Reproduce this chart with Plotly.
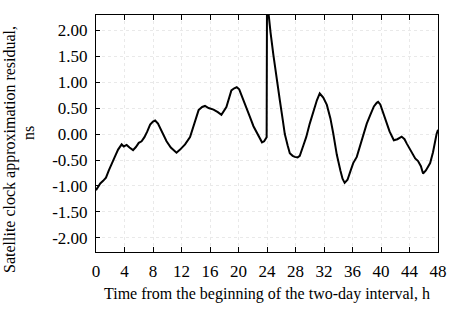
import plotly.graph_objects as go

# time, h
t = [0.0, 0.3, 0.6, 1.0, 1.4, 1.8, 2.2, 2.7, 3.1, 3.6, 3.9, 4.3, 4.7, 5.2, 5.6, 6.0, 6.4, 6.8,
     7.2, 7.6, 8.0, 8.3, 8.7, 9.2, 9.9, 10.5, 11.0, 11.3, 11.8, 12.5, 13.2, 13.8, 14.4, 14.9,
     15.3, 15.8, 16.5, 17.1, 17.6, 18.3, 18.7, 19.0, 19.4, 19.75, 20.1, 20.4, 21.0, 21.6, 22.1,
     22.6, 23.0, 23.3, 23.6, 23.95, 24.0, 24.2, 24.5, 24.9, 25.3, 25.8, 26.2, 26.5, 26.9, 27.2,
     27.6, 27.9, 28.3, 28.6, 29.1, 29.5, 30.0, 30.5, 31.0, 31.4, 31.9, 32.4, 32.9, 33.3, 33.8,
     34.3, 34.6, 34.9, 35.3, 35.7, 36.1, 36.6, 37.1, 37.5, 38.0, 38.5, 39.0, 39.4, 39.6, 39.9,
     40.3, 40.6, 41.2, 41.8, 42.3, 42.9, 43.3, 43.6, 44.2, 44.8, 45.2, 45.6, 45.9, 46.3, 46.9,
     47.3, 47.8, 48.0]
# residual, ns
v = [-1.08, -1.02, -0.95, -0.90, -0.84, -0.70, -0.56, -0.42, -0.30, -0.20, -0.24, -0.21, -0.26,
     -0.31, -0.25, -0.17, -0.14, -0.06, 0.05, 0.18, 0.24, 0.26, 0.20, 0.06, -0.14, -0.26, -0.32,
     -0.36, -0.30, -0.20, -0.06, 0.20, 0.46, 0.52, 0.54, 0.50, 0.47, 0.42, 0.37, 0.52, 0.70,
     0.84, 0.88, 0.90, 0.86, 0.76, 0.55, 0.33, 0.15, 0.01, -0.10, -0.16, -0.14, -0.06, 2.60,
     2.30, 1.95, 1.52, 1.10, 0.65, 0.28, 0.00, -0.22, -0.37, -0.42, -0.44, -0.45, -0.42, -0.22,
     -0.06, 0.20, 0.45, 0.65, 0.78, 0.70, 0.56, 0.30, 0.01, -0.40, -0.70, -0.86, -0.94, -0.88,
     -0.72, -0.56, -0.44, -0.22, 0.00, 0.20, 0.37, 0.53, 0.60, 0.62, 0.57, 0.40, 0.27, 0.05,
     -0.12, -0.10, -0.05, -0.10, -0.18, -0.32, -0.47, -0.52, -0.62, -0.76, -0.70, -0.56, -0.35,
     0.00, 0.08]

x_ticks = list(range(0, 49, 4))
y_ticks = [2.0, 1.5, 1.0, 0.5, 0.0, -0.5, -1.0, -1.5, -2.0]
y_tick_text = ["2.00", "1.50", "1.00", "0.50", "0.00", "-0.50", "-1.00", "-1.50", "-2.00"]
y_title_lines = ["Satellite clock approximation residual,", "ns"]
x_title = "Time from the beginning of the two-day interval, h"

fig = go.Figure(go.Scatter(x=t, y=v, mode="lines", line=dict(color="black", width=2),
                           showlegend=False))

tick_font = dict(family="Liberation Serif", size=17, color="black")
title_font = dict(family="Liberation Serif", size=16, color="black")
fig.update_layout(
    width=457, height=322,
    margin=dict(l=96, r=19, t=15, b=70),
    paper_bgcolor="white", plot_bgcolor="white",
    font=title_font,
)
fig.update_xaxes(range=[0, 48], tickvals=x_ticks, ticks="inside", ticklen=5, tickcolor="black",
                 showline=True, linecolor="black", linewidth=1, mirror="ticks",
                 showgrid=True, gridcolor="#e9e9e9", griddash="dot", zeroline=False,
                 automargin=False, ticklabelstandoff=4,
                 title=dict(text=x_title, standoff=7, font=title_font),
                 tickfont=tick_font)
fig.update_yaxes(range=[-2.27, 2.29], tickvals=y_ticks, ticktext=y_tick_text, ticks="inside",
                 ticklen=4, tickcolor="black",
                 showline=True, linecolor="black", linewidth=1, mirror=True,
                 showgrid=True, gridcolor="#e9e9e9", griddash="dot", zeroline=False,
                 automargin=False, ticklabelstandoff=4,
                 tickfont=tick_font)

# y-axis title (two lines, as in the original)
fig.add_annotation(text=y_title_lines[0], xref="paper", yref="paper", x=-0.2515, y=0.4346,
                   xanchor="center", yanchor="middle", textangle=-90, showarrow=False,
                   font=title_font)
fig.add_annotation(text=y_title_lines[1], xref="paper", yref="paper", x=-0.1988, y=0.502,
                   xanchor="center", yanchor="middle", textangle=-90, showarrow=False,
                   font=title_font)

fig.write_html("out.html", config={"displayModeBar": False},
               post_script="document.body.style.margin='0';")
